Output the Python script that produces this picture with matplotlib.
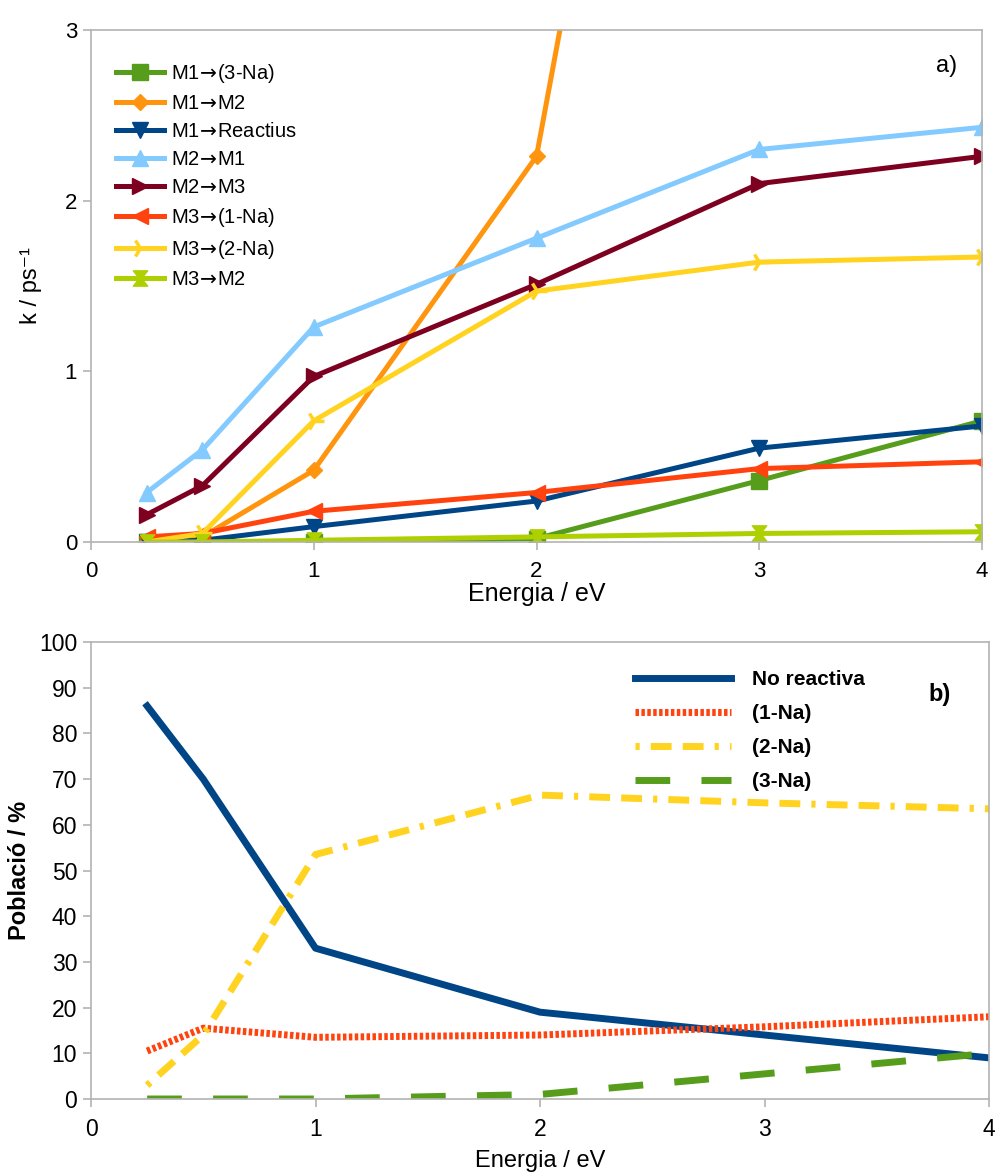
import numpy as np
import matplotlib
matplotlib.use("Agg")
import matplotlib.pyplot as plt

plt.rcParams['font.family'] = ['Liberation Sans', 'DejaVu Sans']

# Panel a) rate constants
energia = [0.25, 0.5, 1, 2, 3, 4]
k_m1_3na = [0.0, 0.0, 0.0, 0.02, 0.36, 0.71]
k_m1_m2 = [0.0, 0.03, 0.42, 2.26, 9.3, 11.0]
k_m1_reac = [0.0, 0.01, 0.09, 0.24, 0.55, 0.68]
k_m2_m1 = [0.29, 0.54, 1.26, 1.78, 2.30, 2.43]
k_m2_m3 = [0.16, 0.33, 0.97, 1.51, 2.10, 2.26]
k_m3_1na = [0.03, 0.05, 0.18, 0.29, 0.43, 0.47]
k_m3_2na = [0.0, 0.05, 0.71, 1.47, 1.64, 1.67]
k_m3_m2 = [0.0, 0.0, 0.01, 0.03, 0.05, 0.06]

arr = "$\\!\\rightarrow\\!$"
series_a = [
    ("M1" + arr + "(3-Na)", k_m1_3na, "#579d1c", "s"),
    ("M1" + arr + "M2", k_m1_m2, "#ff950e", "D"),
    ("M1" + arr + "Reactius", k_m1_reac, "#004586", "v"),
    ("M2" + arr + "M1", k_m2_m1, "#83caff", "^"),
    ("M2" + arr + "M3", k_m2_m3, "#7e0021", ">"),
    ("M3" + arr + "(1-Na)", k_m3_1na, "#ff420e", "<"),
    ("M3" + arr + "(2-Na)", k_m3_2na, "#ffd320", "4"),
    ("M3" + arr + "M2", k_m3_m2, "#aecf00", "$\u29d7$"),
]

# Panel b) populations
pob_noreac = [86, 70, 33, 19, 14, 9]
pob_1na = [10.5, 15.5, 13.5, 14, 15.8, 18]
pob_2na = [3, 14, 53.5, 66.5, 64.8, 63.5]
pob_3na = [0, 0, 0, 1, 5.5, 10]

grid_col = "#b3b3b3"

fig = plt.figure(figsize=(9.96, 11.73), dpi=100)
ax1 = fig.add_axes([91/996, 1-542/1173, (982-91)/996, (542-30)/1173])
ax2 = fig.add_axes([91/996, 1-1099/1173, (989-91)/996, (1099-642)/1173])

for lab, vals, col, mk in series_a:
    ms = 11
    if mk == "D":
        ms = 8.5
    if mk == "4":
        ms = 15
    ax1.plot(energia, vals, color=col, lw=3.6, marker=mk, ms=ms,
             mew=2.5 if mk == "4" else 1, mec=col, mfc=col, label=lab)

ax1.set_xlim(0, 4)
ax1.set_ylim(0, 3)
ax1.set_xticks([0, 1, 2, 3, 4])
ax1.set_yticks([0, 1, 2, 3])
ax1.set_xlabel("Energia / eV", fontsize=18, labelpad=0)
ax1.set_ylabel("k / ps\u207b\u00b9", fontsize=17, labelpad=16)
ax1.text(0.96, 0.93, "a)", transform=ax1.transAxes, fontsize=17,
         ha="center", va="center")
ax1.legend(loc="upper left", bbox_to_anchor=(0.012, 0.965), frameon=False,
           fontsize=14.5, handlelength=2.4, labelspacing=0.45,
           handletextpad=0.35, borderaxespad=0.3)

ax2.plot(energia, pob_noreac, color="#004586", lw=5, label="No reactiva")
ax2.plot(energia, pob_1na, color="#ff420e", lw=5, ls=(0, (0.5, 0.35)),
         label="(1-Na)")
ax2.plot(energia, pob_2na, color="#ffd320", lw=5,
         ls=(0, (0.6, 1.6, 3, 1.6, 3, 1.6)), label="(2-Na)")
ax2.plot(energia, pob_3na, color="#579d1c", lw=5, ls=(0, (5, 4.5)),
         label="(3-Na)")

ax2.set_xlim(0, 4)
ax2.set_ylim(0, 100)
ax2.set_xticks([0, 1, 2, 3, 4])
ax2.set_yticks(np.arange(0, 101, 10))
ax2.set_xlabel("Energia / eV", fontsize=17, labelpad=6)
ax2.set_ylabel("Població / %", fontsize=17, fontweight="bold", labelpad=6)
ax2.text(0.945, 0.885, "b)", transform=ax2.transAxes, fontsize=17,
         fontweight="bold", ha="center", va="center")
ax2.legend(loc="upper left", bbox_to_anchor=(0.585, 0.98), frameon=False,
           handlelength=4.6, labelspacing=0.72, handletextpad=1.0,
           prop={"weight": "bold", "size": 15})

for ax, fs in ((ax1, 16), (ax2, 16.5)):
    for sp in ax.spines.values():
        sp.set_color(grid_col)
        sp.set_linewidth(1.2)
    ax.tick_params(colors=grid_col, labelcolor="black", labelsize=fs,
                   length=6, width=1.2, direction="out")
    ax.tick_params(axis="x", pad=8)
    ax.tick_params(axis="y", pad=4)

fig.savefig("out.png", dpi=100)
